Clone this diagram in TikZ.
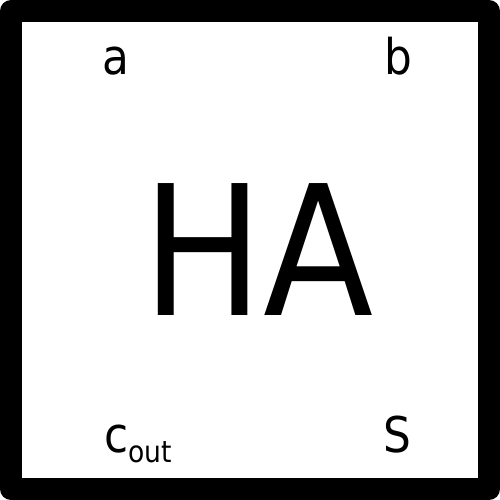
\documentclass[tikz,border=0pt]{standalone}
\usepackage{fontspec}
\setmainfont[FakeStretch=0.89]{DejaVu Sans}
\usetikzlibrary{positioning}

\tikzset{
  pinlabel/.style={anchor=base, inner sep=0pt, font=\fontsize{28pt}{28pt}\selectfont},
  bigname/.style={anchor=base, inner sep=0pt, font=\fontsize{103pt}{103pt}\selectfont}
}

\begin{document}
\begin{tikzpicture}
\useasboundingbox (0,0) rectangle (10,10);
% Block outline
\draw[line width=0.44cm, line join=round] (0.22,0.22) rectangle (9.78,9.78);

% Block name
\node[bigname] (name) at (5.17,3.68) {HA};

% Inputs (top)
\node[pinlabel] (a) at (2.32,8.5) {a};
\node[pinlabel] (b) at (7.96,8.5) {b};

% Outputs (bottom)
\node[pinlabel, anchor=base west] (cout) at (2.08,0.94) {c\raisebox{-0.2cm}{\fontsize{17pt}{17pt}\selectfont out}};
\node[pinlabel] (s) at (7.94,0.94) {S};
\end{tikzpicture}
\end{document}
